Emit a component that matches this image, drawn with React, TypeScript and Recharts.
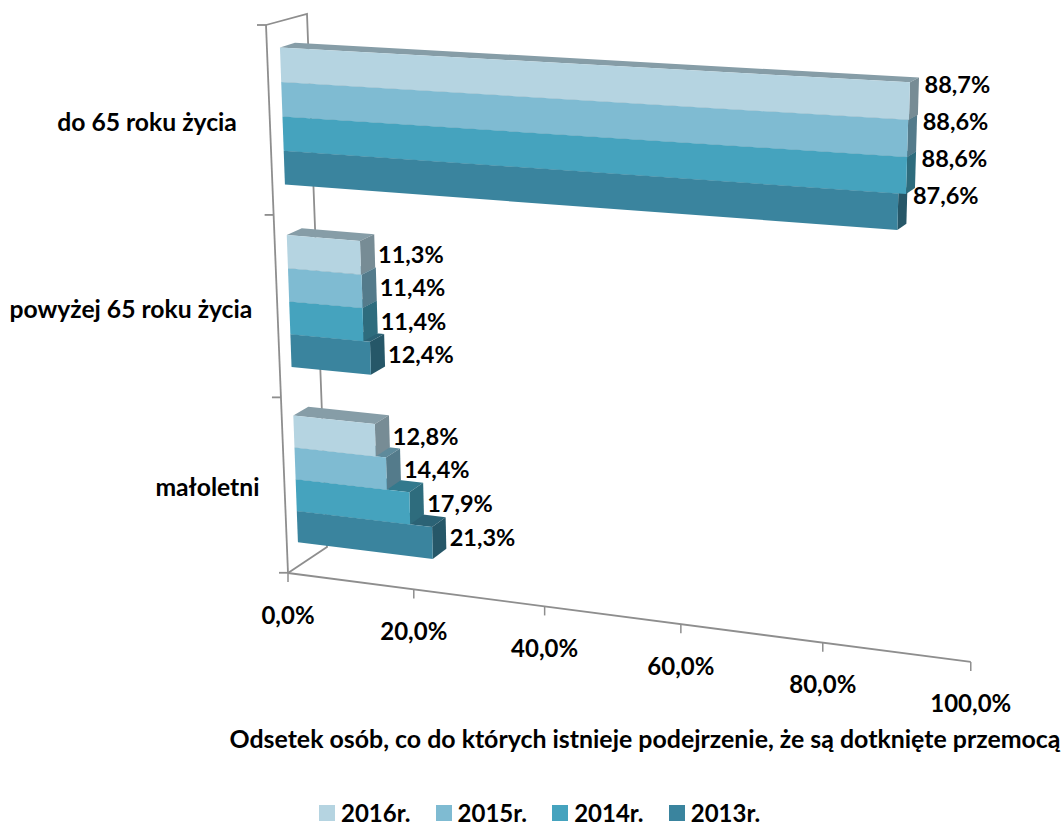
import { BarChart, Bar, XAxis, YAxis, Legend, LabelList, usePlotArea } from "recharts";

const categories = ["do 65 roku życia", "powyżej 65 roku życia", "małoletni"];
const values2016 = [88.7, 11.3, 12.8];
const values2015 = [88.6, 11.4, 14.4];
const values2014 = [88.6, 11.4, 17.9];
const values2013 = [87.6, 12.4, 21.3];
const xTicks = [0, 20, 40, 60, 80, 100];
const xTitle = "Odsetek osób, co do których istnieje podejrzenie, że są dotknięte przemocą";

const chartData = categories.map((name, i) => ({
  name,
  "2016r.": values2016[i],
  "2015r.": values2015[i],
  "2014r.": values2014[i],
  "2013r.": values2013[i],
}));

// painted back to front: the lowest bar first, so the one above covers its top face
const series = [
  { key: "2013r.", color: "#3a849e" },
  { key: "2014r.", color: "#45a3be" },
  { key: "2015r.", color: "#7fbbd2" },
  { key: "2016r.", color: "#b5d4e1" },
];

const FONT = "Lato, sans-serif";
const AXIS_COLOR = "#8e8e8e";

// the 3D look: plot coordinates (u along value, v down the plot) to the picture
const front = (u: number, v: number) => {
  const w = 1 - 0.09 * u + 0.06 * v;
  return [(630.4 * u + 37.7 * v + 279) / w, (32 * u + 578.4 * v + 21.3) / w];
};
const back = (u: number, v: number) => {
  const [x, y] = front(u, v);
  return [x + 15 - 6.8 * u, y - 4.5 - 6 * v];
};
const wall = (v: number) => {
  const w = 1 + 0.0615 * v;
  return [(39.7 * v + 266) / w, (583 * v + 25) / w];
};
const floor = (u: number) => {
  const w = 1 - 0.0966 * u;
  return [(589 * u + 288) / w, (25 * u + 573) / w];
};

const shade = (hex: string, k: number) => {
  const n = parseInt(hex.slice(1), 16);
  const c = [(n >> 16) & 255, (n >> 8) & 255, n & 255].map((p) => Math.round(p * k));
  return `rgb(${c.join(",")})`;
};

const toPoints = (pts: number[][]) => pts.map((p) => p.join(",")).join(" ");

const Bar3D = (props: any) => {
  const plot = usePlotArea();
  if (!plot) return null;
  const { x, y, width, height, fill } = props;
  const u = (x + width - plot.x) / plot.width;
  const v0 = (y - plot.y) / plot.height;
  const v1 = (y + height - plot.y) / plot.height;
  return (
    <g>
      <polygon points={toPoints([front(0, v0), front(u, v0), back(u, v0), back(0, v0)])} fill={shade(fill, 0.74)} />
      <polygon points={toPoints([front(u, v0), front(u, v1), back(u, v1), back(u, v0)])} fill={shade(fill, 0.66)} />
      <polygon points={toPoints([front(0, v0), front(u, v0), front(u, v1), front(0, v1)])} fill={fill} />
    </g>
  );
};

const BarValue = (props: any) => {
  const plot = usePlotArea();
  if (!plot) return null;
  const { x, y, width, height, value } = props;
  const u = (x + width - plot.x) / plot.width;
  const v = (y + height / 2 - plot.y) / plot.height;
  const lx = back(u, v)[0] + 3 + 3.5 * u;
  const ly = front(u, v)[1] - 2 - 17 * u;
  return (
    <text x={lx} y={ly} dominantBaseline="central" fontFamily={FONT} fontWeight={700} fontSize={23.5} fill="#000">
      {`${value.toFixed(1).replace(".", ",")}%`}
    </text>
  );
};

const XTick = ({ payload }: any) => {
  const [x, y] = floor(payload.value / 100);
  return (
    <g>
      <line x1={x} y1={y} x2={x} y2={y + 9} stroke={AXIS_COLOR} strokeWidth={1.5} />
      <text x={x} y={y + 41} textAnchor="middle" dominantBaseline="central" fontFamily={FONT} fontWeight={700} fontSize={24} fill="#000">
        {`${payload.value},0%`}
      </text>
    </g>
  );
};

const YTick = ({ payload, index }: any) => {
  const [x, y] = wall((index + 0.5) / categories.length);
  // the first label sits further from the wall than the other two
  const gap = index === 0 ? 33 : 25;
  return (
    <text x={x - gap} y={y + 1} textAnchor="end" dominantBaseline="central" fontFamily={FONT} fontWeight={700} fontSize={24.7} fill="#000">
      {payload.value}
    </text>
  );
};

const Frame = () => {
  const [bx, by] = [307, 14];
  const [fx, fy] = [327, 547];
  return (
    <g stroke={AXIS_COLOR} strokeWidth={1.8} fill="none">
      <polyline points={toPoints([wall(0), [bx, by], [fx, fy], floor(0)])} />
      <polyline points={toPoints([wall(0), wall(1)])} />
      <polyline points={toPoints([floor(0), floor(1)])} />
      {categories.concat("").map((_, i) => {
        const [x, y] = wall(i / categories.length);
        return <line key={i} x1={x - 9} y1={y} x2={x} y2={y} />;
      })}
    </g>
  );
};

const LegendRow = ({ payload }: any) => (
  <div style={{ display: "flex", paddingLeft: 319, fontFamily: FONT, fontWeight: 700, fontSize: 24, lineHeight: "18px", color: "#000" }}>
    {[...(payload || [])].reverse().map((item: any) => (
      <div key={item.value} style={{ display: "flex", alignItems: "center", width: 116.6 }}>
        <span style={{ width: 16, height: 16, background: item.color, marginRight: 6 }} />
        {item.value}
      </div>
    ))}
  </div>
);

export default function App() {
  return (
    <div style={{ position: "absolute", left: 0, top: 0, width: 1064, height: 827 }}>
      <BarChart
        width={1064}
        height={827}
        data={chartData}
        layout="vertical"
        margin={{ top: 20, right: 60, left: 279, bottom: 146 }}
        barSize={40}
        barGap={-80}
        barCategoryGap="27%"
      >
        <Frame />
        <XAxis type="number" domain={[0, 100]} ticks={xTicks} interval={0} height={1} axisLine={false} tickLine={false} tick={(p: any) => <XTick {...p} />} />
        <YAxis type="category" dataKey="name" width={1} interval={0} axisLine={false} tickLine={false} tick={(p: any) => <YTick {...p} />} />
        <Legend verticalAlign="middle" wrapperStyle={{ top: 804, left: 0, width: 1064 }} content={(p: any) => <LegendRow {...p} />} />
        {series.map((s) => (
          <Bar key={s.key} dataKey={s.key} fill={s.color} isAnimationActive={false} shape={(p: any) => <Bar3D {...p} />}>
            <LabelList dataKey={s.key} content={(p: any) => <BarValue {...p} />} />
          </Bar>
        ))}
        <text x={645} y={738} textAnchor="middle" dominantBaseline="central" fontFamily={FONT} fontWeight={700} fontSize={24.9} fill="#000">
          {xTitle}
        </text>
      </BarChart>
    </div>
  );
}
